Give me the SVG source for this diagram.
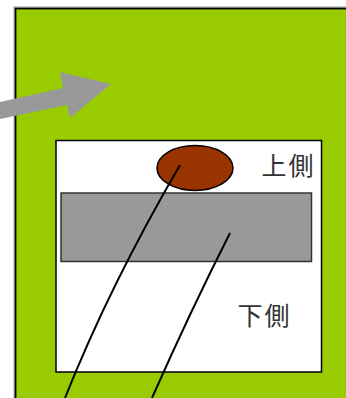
<svg xmlns="http://www.w3.org/2000/svg" width="346" height="398" viewBox="0 0 346 398">
<style>
.lbl{font-family:"Noto Sans CJK JP","Noto Sans CJK SC",sans-serif;font-size:25px;letter-spacing:2px;fill:#333333}
.conn{fill:none;stroke:#000;stroke-width:2}
</style>
<rect width="346" height="398" fill="#ffffff"/>
<g id="background">
<rect x="14" y="7" width="340" height="400" fill="none" stroke="#999999" stroke-width="1"/>
<rect x="15.5" y="8.5" width="340" height="400" fill="#99CC00" stroke="#000000" stroke-width="1.8"/>
</g>
<g id="arrow">
<polygon points="0,102 63,88 60,72 111,84 70,118 67,105 0,119" fill="#999999"/>
</g>
<g id="panel">
<rect x="56" y="140.5" width="265.5" height="231.5" fill="#ffffff" stroke="#000000" stroke-width="1.5"/>
</g>
<g id="upper-label">
<text class="lbl" x="261.5" y="174.5">上側</text>
</g>
<g id="lower-label">
<text class="lbl" x="237.5" y="324.5">下側</text>
</g>
<g id="bar">
<rect x="61" y="193" width="250.5" height="68.5" fill="#999999" stroke="#333333" stroke-width="1.5"/>
</g>
<g id="ellipse">
<ellipse cx="195" cy="168" rx="38" ry="22.5" fill="#993300" stroke="#000000" stroke-width="1.5"/>
</g>
<g id="connectors">
<path class="conn" d="M180,165 Q110,285 65,398"/>
<path class="conn" d="M230,233 Q190,312 152,398"/>
</g>
</svg>
